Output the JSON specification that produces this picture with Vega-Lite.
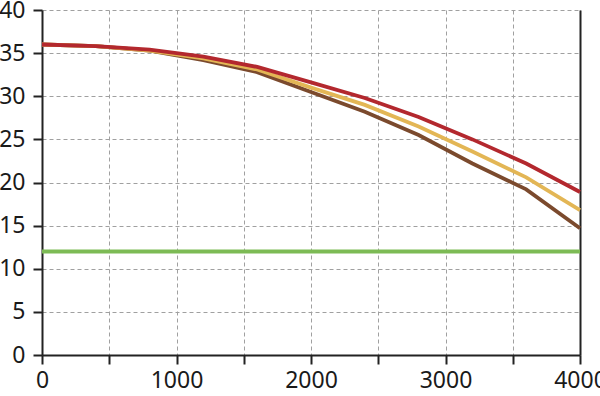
{
  "$schema": "https://vega.github.io/schema/vega-lite/v6.json",
  "width": 538,
  "height": 345,
  "autosize": "none",
  "padding": {"left": 42, "top": 10, "right": 20, "bottom": 41},
  "background": "white",
  "config": {
    "view": {"stroke": null},
    "font": "Noto Sans",
    "axis": {
      "labelFont": "Noto Sans",
      "labelFontSize": 23,
      "labelColor": "#1a1a1a",
      "domainColor": "#222222",
      "domainWidth": 2,
      "tickColor": "#222222",
      "tickWidth": 2,
      "gridColor": "#a0a0a0",
      "gridDash": [4, 3],
      "gridWidth": 1,
      "title": null
    }
  },
  "datasets": {
    "curves": [
      {"s": "brown", "x": 0, "y": 36.0}, {"s": "brown", "x": 400, "y": 35.8}, {"s": "brown", "x": 800, "y": 35.3}, {"s": "brown", "x": 1200, "y": 34.2}, {"s": "brown", "x": 1600, "y": 32.8}, {"s": "brown", "x": 2000, "y": 30.5}, {"s": "brown", "x": 2400, "y": 28.2}, {"s": "brown", "x": 2800, "y": 25.5}, {"s": "brown", "x": 3200, "y": 22.2}, {"s": "brown", "x": 3600, "y": 19.2}, {"s": "brown", "x": 4000, "y": 14.7},
      {"s": "yellow", "x": 0, "y": 36.0}, {"s": "yellow", "x": 400, "y": 35.8}, {"s": "yellow", "x": 800, "y": 35.3}, {"s": "yellow", "x": 1200, "y": 34.4}, {"s": "yellow", "x": 1600, "y": 33.1}, {"s": "yellow", "x": 2000, "y": 31.0}, {"s": "yellow", "x": 2400, "y": 29.0}, {"s": "yellow", "x": 2800, "y": 26.5}, {"s": "yellow", "x": 3200, "y": 23.6}, {"s": "yellow", "x": 3600, "y": 20.6}, {"s": "yellow", "x": 4000, "y": 16.8},
      {"s": "red", "x": 0, "y": 36.0}, {"s": "red", "x": 400, "y": 35.8}, {"s": "red", "x": 800, "y": 35.4}, {"s": "red", "x": 1200, "y": 34.6}, {"s": "red", "x": 1600, "y": 33.4}, {"s": "red", "x": 2000, "y": 31.6}, {"s": "red", "x": 2400, "y": 29.8}, {"s": "red", "x": 2800, "y": 27.6}, {"s": "red", "x": 3200, "y": 25.0}, {"s": "red", "x": 3600, "y": 22.2}, {"s": "red", "x": 4000, "y": 18.9}
    ],
    "limit": [
      {"s": "green", "x": 0, "y": 12}, {"s": "green", "x": 4000, "y": 12}
    ]
  },
  "resolve": {"axis": {"y": "independent"}},
  "layer": [
    {
      "data": {"name": "limit"},
      "mark": {"type": "line", "strokeWidth": 3.8, "color": "#7dbb55"},
      "encoding": {
        "x": {"field": "x", "type": "quantitative", "scale": {"domain": [0, 4000], "nice": false},
          "axis": {"values": [0, 500, 1000, 1500, 2000, 2500, 3000, 3500, 4000], "labelExpr": "datum.value % 1000 === 0 ? datum.value : ''", "tickSize": 9, "labelPadding": 5, "format": "d", "labelFlush": false}},
        "y": {"field": "y", "type": "quantitative", "scale": {"domain": [0, 40], "nice": false},
          "axis": {"orient": "right", "labels": false, "ticks": false, "grid": false, "domainWidth": 2}}
      }
    },
    {
      "data": {"name": "curves"},
      "mark": {"type": "line", "strokeWidth": 3.8},
      "encoding": {
        "x": {"field": "x", "type": "quantitative"},
        "y": {"field": "y", "type": "quantitative",
          "axis": {"values": [0, 5, 10, 15, 20, 25, 30, 35, 40], "grid": true, "tickSize": 9, "labelPadding": 8}},
        "color": {"field": "s", "type": "nominal", "legend": null,
          "scale": {"domain": ["brown", "yellow", "red"], "range": ["#7b4a2d", "#e3b655", "#b3282e"]}}
      }
    }
  ]
}
